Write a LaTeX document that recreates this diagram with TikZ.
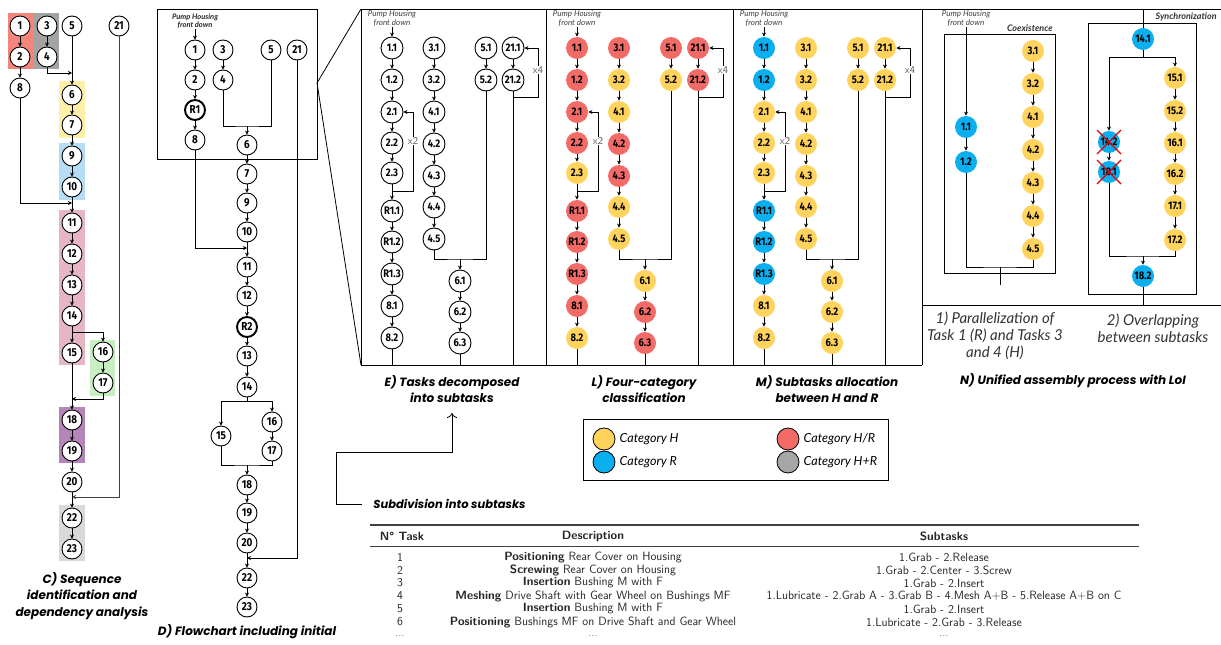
\documentclass[tikz,border=0pt]{standalone}
\usepackage{fontspec}
\usetikzlibrary{arrows.meta}
\newfontfamily\capfont{Poppins}
\newfontfamily\labfont{Lato}
\newfontfamily\numfont{Fira Sans}[FakeStretch=0.86]
\definecolor{catHc}{HTML}{FFD35C}
\definecolor{catRc}{HTML}{0AAFEF}
\definecolor{catHRc}{HTML}{F26B67}
\definecolor{catHpRc}{HTML}{A6A6A6}
\definecolor{bgred}{HTML}{F4857B}
\definecolor{bggray}{HTML}{A3A3A3}
\definecolor{bgyellow}{HTML}{FFF0A8}
\definecolor{bgblue}{HTML}{B5DEF6}
\definecolor{bgpink}{HTML}{E6B6C5}
\definecolor{bggreen}{HTML}{C8EFC1}
\definecolor{bgpurple}{HTML}{B585BA}
\definecolor{bglight}{HTML}{D9D9D9}

% wires shared by the three subtask panels (E, L, M)
\newcommand{\subwires}[1]{%
  \node[pump] (#1pump) at (31,19) {Pump Housing\\front down};
  \draw[arr] (#1pump) -- (#111);
  \foreach \a/\b in {11/12,12/21,21/22,22/23,23/R11,R11/R12,R12/R13,R13/81,81/82,31/32,32/41,41/42,42/43,43/44,44/45,51/52,211/212,61/62,62/63}
    \draw[arr] (#1\a) -- (#1\b);
  \coordinate (#1lpa) at (31,191);
  \coordinate (#1lpb) at (52,112);
  \draw[arr] (#1lpa) -| (#1lpb) -- (#121);
  \node[rep] (#1xtwo) at (52,141) {x2};
  \coordinate (#1lpc) at (152,97);
  \coordinate (#1lpd) at (177,48);
  \draw[arr] (#1lpc) -| (#1lpd) -- (#1211);
  \node[rep] (#1xfour) at (177,70) {x4};
  \coordinate (#1join) at (99,259);
  \draw (#145) |- (#1join) -| (#152);
  \draw[arr] (#1join) -- (#161);
  \coordinate (#1bot) at (0,365);
  \draw (#182) -- (#182 |- #1bot);
  \draw (#163) -- (#163 |- #1bot);
  \draw (#1212) -- (#1212 |- #1bot);
}

\begin{document}
\begin{tikzpicture}[x=1pt,y=-1pt,line width=0.8pt,
  task/.style={circle,draw,line width=0.9pt,fill=white,minimum size=20pt,inner sep=0pt,
    font=\numfont\bfseries\fontsize{11.5}{12}\selectfont},
  robot/.style={task,line width=1.9pt},
  sub/.style={circle,minimum size=22pt,inner sep=0pt,
    font=\numfont\bfseries\fontsize{11}{12}\selectfont},
  blank/.style={draw,line width=0.9pt,fill=white},
  arr/.style={-{Stealth[length=4pt,width=4pt]}},
  pump/.style={align=center,inner sep=0pt,text=black!75,
    font=\labfont\itshape\fontsize{8}{9}\selectfont},
  rep/.style={fill=white,inner sep=0.5pt,text=black!65,
    font=\sffamily\fontsize{10.5}{10}\selectfont},
  caption/.style={align=center,font=\capfont\bfseries\itshape\fontsize{12}{16.5}\selectfont},
  subcap/.style={align=center,text=black!80,font=\labfont\itshape\fontsize{15}{17}\selectfont},
  boxlabel/.style={inner sep=1pt,text=black!80,font=\labfont\bfseries\itshape\fontsize{9}{10}\selectfont},
  legdot/.style={circle,draw,line width=0.8pt,minimum size=22pt,inner sep=0pt},
  legtext/.style={anchor=west,font=\labfont\itshape\fontsize{12.5}{13}\selectfont},
  tab/.style={inner sep=0pt,text=black!85,font=\sffamily\fontsize{12}{13}\selectfont}]
\fill[white] (0,0) rectangle (1221,645);
\useasboundingbox (0,0) rectangle (1221,645);

% C) sequence identification
\fill[bgred] (8,13) rectangle (34,69);
\fill[bggray] (34,13) rectangle (59,69);
\fill[bgyellow] (59,81) rectangle (85,138);
\fill[bgblue] (59,143) rectangle (85,200);
\fill[bgpink] (59,210) rectangle (85,365);
\fill[bggreen] (90,340) rectangle (115,396);
\fill[bgpurple] (59,407) rectangle (85,463);
\fill[bglight] (59,505) rectangle (85,561);
\foreach \n/\x/\y in {1/20/26,3/47/26,5/72/26,21/119/26,2/20/57,4/47/57,8/20/88,6/72/95,7/72/125,9/72/156,10/72/187,11/72/223,12/72/254,13/72/285,14/72/316,15/72/353,16/103/352,17/103/383,18/72/420,19/72/451,20/72/482,22/72/518,23/72/549}
  \node[task] (c\n) at (\x,\y) {\n};
\foreach \a/\b in {1/2,3/4,2/8,5/6,6/7,7/9,9/10,10/11,11/12,12/13,13/14,14/15,16/17,15/18,18/19,19/20,20/22,22/23}
  \draw[arr] (c\a) -- (c\b);
\coordinate (c46) at (72,73);
\coordinate (c811) at (72,203);
\coordinate (c1416) at (72,332);
\coordinate (c1718) at (72,399);
\coordinate (c2122) at (72,497);
\draw[arr] (c4) |- (c46);
\draw[arr] (c8) |- (c811);
\draw[arr] (c1416) -| (c16);
\draw[arr] (c17) |- (c1718);
\draw[arr,black!75] (c21) |- (c2122);
\node[caption] (capC) at (82,596) {C) Sequence\\identification and\\dependency analysis};

% D) flowchart
\draw[line width=1pt] (157,9) rectangle (317,159);
\coordinate (dzoom) at (317,83);
\node[pump,text=black!85,font=\labfont\bfseries\itshape\fontsize{7.5}{8.5}\selectfont] (dpump) at (195,21) {Pump Housing\\front down};
\foreach \n/\x/\y in {1/195/50,3/223/50,5/271/50,21/297/50,2/195/80,4/223/80,8/195/140,6/247/145,7/247/174,9/247/203,10/247/232,11/247/267,12/247/296,13/247/356,14/247/387,15/221/436,16/272/422,17/272/451,18/247/485,19/247/513,20/247/543,22/247/578,23/247/607}
  \node[task] (d\n) at (\x,\y) {\n};
\node[robot] (dR1) at (195,110) {R1};
\node[robot] (dR2) at (247,327) {R2};
\draw[arr] (dpump) -- (d1);
\foreach \a/\b in {1/2,2/R1,R1/8,3/4,6/7,7/9,9/10,10/11,11/12,12/R2,R2/13,13/14,16/17,18/19,19/20,20/22,22/23}
  \draw[arr] (d\a) -- (d\b);
\coordinate (d46) at (247,126);
\draw (d4) |- (d46) -| (d5);
\draw[arr] (d46) -- (d6);
\coordinate (d811) at (247,248);
\draw[arr] (d8) |- (d811);
\coordinate (d14b) at (247,401);
\draw (d14) -- (d14b);
\draw[arr] (d14b) -| (d15);
\draw[arr] (d14b) -| (d16);
\coordinate (d1718) at (247,465);
\draw (d15) |- (d1718) -| (d17);
\draw[arr] (d1718) -- (d18);
\coordinate (d2122) at (247,558);
\draw[arr] (d21) |- (d2122);
\node[caption] (capD) at (247,632) {D) Flowchart including initial};

% frames of panels E, L, M, N
\coordinate (etl) at (361,9);
\coordinate (ebl) at (361,365);
\draw (dzoom) -- (etl);
\draw (dzoom) -- (ebl);
\draw[line width=1pt] (1221,9) -- (etl) -- (ebl) -- (922,365);
\foreach \x in {546,733,922}
  \draw[line width=1pt] (\x,9) -- (\x,365);
\draw[line width=1pt] (922,305) -- (1221,305);

% E) tasks decomposed into subtasks
\begin{scope}[shift={(361,0)}]
  \foreach \n/\lab/\x/\y in {11/1.1/31/48,12/1.2/31/80,21/2.1/31/112,22/2.2/31/143,23/2.3/31/173,R11/R1.1/31/211,R12/R1.2/31/242,R13/R1.3/31/274,81/8.1/31/306,82/8.2/31/338,31/3.1/73/48,32/3.2/73/80,41/4.1/73/112,42/4.2/73/144,43/4.3/73/176,44/4.4/73/207,45/4.5/73/239,51/5.1/125/48,52/5.2/125/80,211/21.1/152/48,212/21.2/152/80,61/6.1/99/281,62/6.2/99/312,63/6.3/99/343}
    \node[sub,blank] (E\n) at (\x,\y) {\lab};
  \subwires{E}
\end{scope}
\node[caption] (capE) at (452,389) {E) Tasks decomposed\\into subtasks};

% L) four-category classification
\begin{scope}[shift={(546,0)}]
  \foreach \n/\lab/\x/\y/\col in {11/1.1/31/48/catHRc,12/1.2/31/80/catHRc,21/2.1/31/112/catHRc,22/2.2/31/143/catHRc,23/2.3/31/173/catHc,R11/R1.1/31/211/catHRc,R12/R1.2/31/242/catHRc,R13/R1.3/31/274/catHRc,81/8.1/31/306/catHRc,82/8.2/31/338/catHc,31/3.1/73/48/catHRc,32/3.2/73/80/catHc,41/4.1/73/112/catHc,42/4.2/73/144/catHRc,43/4.3/73/176/catHRc,44/4.4/73/207/catHc,45/4.5/73/239/catHc,51/5.1/125/48/catHRc,52/5.2/125/80/catHc,211/21.1/152/48/catHRc,212/21.2/152/80/catHRc,61/6.1/99/281/catHc,62/6.2/99/312/catHRc,63/6.3/99/343/catHRc}
    \node[sub,fill=\col] (L\n) at (\x,\y) {\lab};
  \subwires{L}
\end{scope}
\node[caption] (capL) at (644,389) {L) Four-category\\classification};

% M) subtasks allocation between H and R
\begin{scope}[shift={(733,0)}]
  \foreach \n/\lab/\x/\y/\col in {11/1.1/31/48/catRc,12/1.2/31/80/catRc,21/2.1/31/112/catHc,22/2.2/31/143/catHc,23/2.3/31/173/catHc,R11/R1.1/31/211/catRc,R12/R1.2/31/242/catRc,R13/R1.3/31/274/catRc,81/8.1/31/306/catHc,82/8.2/31/338/catHc,31/3.1/73/48/catHc,32/3.2/73/80/catHc,41/4.1/73/112/catHc,42/4.2/73/144/catHc,43/4.3/73/176/catHc,44/4.4/73/207/catHc,45/4.5/73/239/catHc,51/5.1/125/48/catHc,52/5.2/125/80/catHc,211/21.1/152/48/catHc,212/21.2/152/80/catHc,61/6.1/99/281/catHc,62/6.2/99/312/catHc,63/6.3/99/343/catHc}
    \node[sub,fill=\col] (M\n) at (\x,\y) {\lab};
  \subwires{M}
\end{scope}
\node[caption] (capM) at (827,389) {M) Subtasks allocation\\between H and R};

% N) 1) coexistence
\draw (944,34) rectangle (1055,273);
\node[boxlabel,anchor=south east] (ncoex) at (1054,33) {Coexistence};
\node[pump] (npump) at (966,19) {Pump Housing\\front down};
\node[sub,fill=catRc] (n11) at (966,127) {1.1};
\node[sub,fill=catRc] (n12) at (966,162) {1.2};
\foreach \n/\lab/\y in {31/3.1/51,32/3.2/84,41/4.1/117,42/4.2/150,43/4.3/183,44/4.4/216,45/4.5/249}
  \node[sub,fill=catHc] (n\n) at (1033,\y) {\lab};
\draw[arr] (npump) -- (n11);
\foreach \a/\b in {11/12,31/32,32/41,41/42,42/43,43/44,44/45}
  \draw[arr] (n\a) -- (n\b);
\coordinate (nj1) at (1000,267);
\coordinate (nout1) at (1000,285);
\draw (n12) |- (nj1) -| (n45);
\draw (nj1) -- (nout1);

% N) 2) synchronization
\draw (1088,23) rectangle (1196,294);
\node[boxlabel,anchor=east] (nsync) at (1218,17) {Synchronization};
\coordinate (nin2) at (1143,9);
\node[sub,fill=catRc] (n141) at (1143,39) {14.1};
\foreach \n/\lab/\y in {151/15.1/78,152/15.2/111,161/16.1/143,162/16.2/174,171/17.1/206,172/17.2/240}
  \node[sub,fill=catHc] (n\n) at (1175,\y) {\lab};
\node[sub,fill=catRc] (n142) at (1109,142) {14.2};
\node[sub,fill=catRc] (n181) at (1109,172) {18.1};
\node[sub,fill=catRc] (n182) at (1143,276) {18.2};
\draw (nin2) -- (n141);
\coordinate (ns1) at (1143,57);
\draw (n141) -- (ns1);
\draw[arr] (ns1) -| (n151);
\draw[arr] (ns1) -| (n142);
\foreach \a/\b in {142/181,151/152,152/161,161/162,162/171,171/172}
  \draw[arr] (n\a) -- (n\b);
\coordinate (ns2) at (1143,256);
\draw (n181) |- (ns2) -| (n172);
\draw[arr] (ns2) -- (n182);
\coordinate (nout2) at (1143,305);
\draw (n182) -- (nout2);
\foreach \n in {142,181}
  \draw[red!90!black,line width=1.2pt] (n\n) ++(-12,-12) -- ++(24,24) (n\n) ++(12,-12) -- ++(-24,24);
\node[subcap] (capN1) at (995,336) {1) Parallelization of\\Task 1 (R) and Tasks 3\\and 4 (H)};
\node[subcap] (capN2) at (1153,328) {2) Overlapping\\between subtasks};
\node[caption] (capN) at (1073,381) {N) Unified assembly process with LoI};

% legend
\draw (583,419) rectangle (888,480);
\node[legdot,fill=catHc] (lgH) at (604,439) {};
\node[legdot,fill=catRc] (lgR) at (604,462) {};
\node[legdot,fill=catHRc] (lgHR) at (788,439) {};
\node[legdot,fill=catHpRc] (lgHpR) at (788,462) {};
\node[legtext] (lgHt) at (616,439) {Category H};
\node[legtext] (lgRt) at (616,462) {Category R};
\node[legtext] (lgHRt) at (800,439) {Category H/R};
\node[legtext] (lgHpRt) at (800,462) {Category H+R};

% subdivision arrow
\node[caption,anchor=west,inner sep=0pt,font=\capfont\bfseries\itshape\fontsize{11.5}{14}\selectfont] (subdiv) at (373,504) {Subdivision into subtasks};
\coordinate (sb) at (336,452);
\coordinate (etop) at (452,413);
\draw[-{To[length=5pt,width=10pt]}] ([xshift=-11pt]subdiv.west) -| (sb) -| (etop);

% table
\draw[line width=1.3pt,black!75] (370,525) -- (1139,525);
\draw[line width=0.7pt,black!75] (370,546) -- (1139,546);
\node[tab,font=\sffamily\bfseries\fontsize{12}{13}\selectfont] (hnum) at (402,536) {N° Task};
\node[tab,font=\sffamily\bfseries\fontsize{12}{13}\selectfont] (hdesc) at (593,536) {Description};
\node[tab,font=\sffamily\bfseries\fontsize{12}{13}\selectfont] (hsub) at (944,536) {Subtasks};
\foreach \k/\y/\d/\s in {1/557/{\textbf{Positioning} Rear Cover on Housing}/{1.Grab - 2.Release},
    2/570/{\textbf{Screwing} Rear Cover on Housing}/{1.Grab - 2.Center - 3.Screw},
    3/583/{\textbf{Insertion} Bushing M with F}/{1.Grab - 2.Insert},
    4/596/{\textbf{Meshing} Drive Shaft with Gear Wheel on Bushings MF}/{1.Lubricate - 2.Grab A - 3.Grab B - 4.Mesh A+B - 5.Release A+B on C},
    5/609/{\textbf{Insertion} Bushing M with F}/{1.Grab - 2.Insert},
    6/622/{\textbf{Positioning} Bushings MF on Drive Shaft and Gear Wheel}/{1.Lubricate - 2.Grab - 3.Release}}
{
  \node[tab] (tn\k) at (400,\y) {\k};
  \node[tab] (td\k) at (593,\y) {\d};
  \node[tab] (ts\k) at (944,\y) {\s};
}
\node[tab,text=black!50] (tnx) at (400,636) {...};
\node[tab,text=black!50] (tdx) at (593,636) {...};
\node[tab,text=black!50] (tsx) at (944,636) {...};
\end{tikzpicture}
\end{document}
